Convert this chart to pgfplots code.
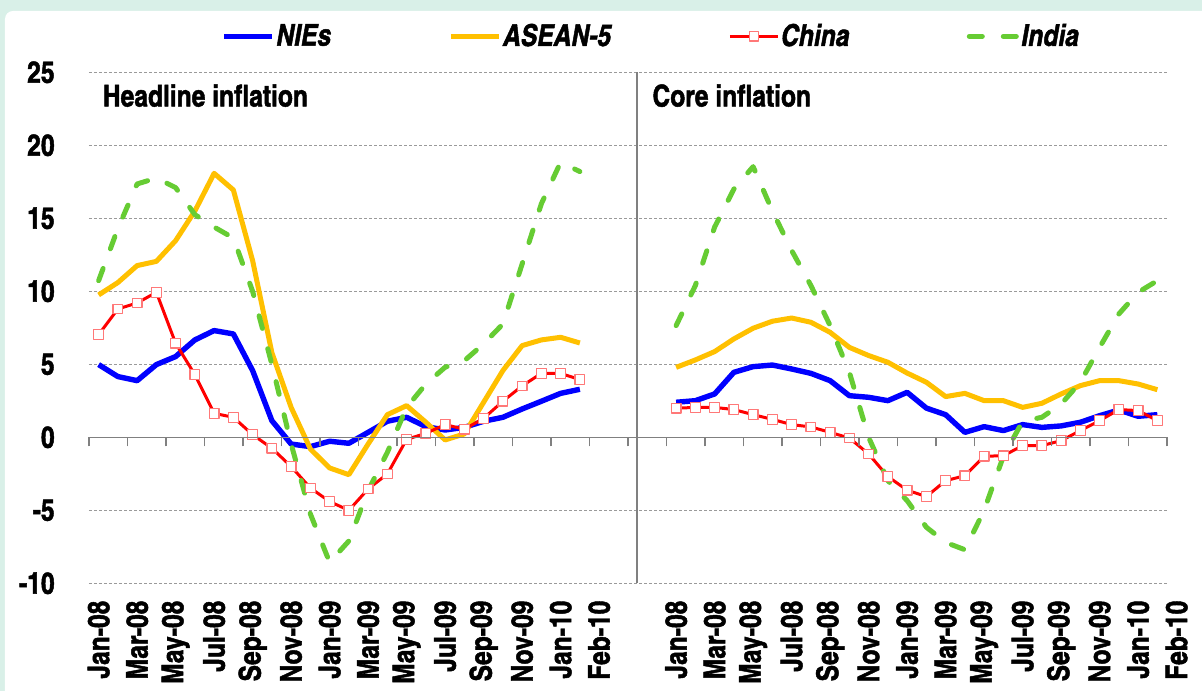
\documentclass[border=0pt]{standalone}
\usepackage{fontspec}
\setmainfont{TeX Gyre Heros Cn}[BoldFeatures={FakeBold=1.5}, BoldItalicFeatures={FakeBold=1.5}]
\usepackage{pgfplots}
\pgfplotsset{compat=1.18}

\definecolor{mintbg}{RGB}{217,240,232}
\definecolor{nieblue}{RGB}{0,0,255}
\definecolor{aseangold}{RGB}{255,192,0}
\definecolor{chinared}{RGB}{255,0,0}
\definecolor{chinamark}{RGB}{255,120,120}
\definecolor{indiagreen}{RGB}{102,204,51}
\definecolor{axisgray}{RGB}{128,128,128}

\begin{document}
\begin{tikzpicture}[font=\fontsize{15}{18}\selectfont\bfseries]
% background
\fill[mintbg] (-44.5pt,-53.85pt) rectangle (556.5pt,291.65pt);
\fill[white, rounded corners=4pt] (-42pt,-70pt) rectangle (570pt,286.15pt);

\begin{axis}[
    at={(0,0)}, anchor=south west,
    scale only axis, width=539pt, height=255.5pt,
    xmin=-0.5, xmax=55.5, ymin=-10, ymax=25,
    axis line style={draw=none},
    major tick length=0pt,
    ytick={-10,-5,0,5,10,15,20,25},
    yticklabels={-10,-5,0,5,10,15,20,25},
    yticklabel style={anchor=east, inner sep=0pt},
    yticklabel shift=17pt,
    xtick={0,2,4,6,8,10,12,14,16,18,20,22,24,26,30,32,34,36,38,40,42,44,46,48,50,52,54},
    xticklabels={Jan-08,Mar-08,May-08,Jul-08,Sep-08,Nov-08,Jan-09,Mar-09,May-09,Jul-09,Sep-09,Nov-09,Jan-10,Feb-10,
                 Jan-08,Mar-08,May-08,Jul-08,Sep-08,Nov-08,Jan-09,Mar-09,May-09,Jul-09,Sep-09,Nov-09,Jan-10},
    xticklabel style={rotate=90, anchor=east, inner sep=0pt},
    xticklabel shift=8.5pt,
    ymajorgrids,
    grid style={axisgray!80, line width=0.5pt, dash pattern=on 1.5pt off 1pt},
    extra x ticks={27.95}, extra x tick labels={},
    extra x tick style={grid=major, major grid style={solid, axisgray, line width=1pt}},
    clip=false,
    legend columns=4,
    legend style={at={(0,1)}, anchor=west, xshift=66pt, yshift=18pt,
        draw=none, fill=none, inner sep=0pt, nodes={inner sep=0.75pt},
        font=\fontsize{15}{18}\selectfont\bfseries\itshape,
        /tikz/every even column/.append style={column sep=58pt}},
    legend image code/.code={\draw[mark repeat=2,mark phase=2,#1]
        plot coordinates {(0pt,0pt) (12pt,0pt) (24pt,0pt)};},
]
% ---- headline inflation (Jan-08 .. Feb-10)
\addplot[color=nieblue, line width=2.7pt, line join=round] coordinates {
 (0,4.98) (1,4.16) (2,3.88) (3,4.98) (4,5.53) (5,6.67) (6,7.31) (7,7.08) (8,4.57) (9,1.14)
 (10,-0.46) (11,-0.64) (12,-0.27) (13,-0.41) (14,0.34) (15,1.1) (16,1.37) (17,0.73) (18,0.5)
 (19,0.68) (20,1.1) (21,1.37) (22,1.94) (23,2.47) (24,3.01) (25,3.29)};
\addlegendentry{NIEs}
\addplot[color=aseangold, line width=2.5pt, line join=round] coordinates {
 (0,9.75) (1,10.6) (2,11.76) (3,12.05) (4,13.47) (5,15.5) (6,18.08) (7,16.94) (8,12.1) (9,5.8)
 (10,2.05) (11,-0.8) (12,-2.1) (13,-2.56) (14,-0.46) (15,1.55) (16,2.17) (17,1.03) (18,-0.18)
 (19,0.23) (20,2.4) (21,4.57) (22,6.28) (23,6.67) (24,6.85) (25,6.46)};
\addlegendentry{ASEAN-5}
\addplot[color=chinared, line width=1.5pt, line join=round, mark=square*, mark size=2.4pt,
    mark options={fill=white, draw=chinamark, line width=0.6pt, solid}] coordinates {
 (0,7.03) (1,8.79) (2,9.2) (3,9.93) (4,6.44) (5,4.29) (6,1.64) (7,1.37) (8,0.18) (9,-0.75)
 (10,-2.0) (11,-3.47) (12,-4.4) (13,-5.0) (14,-3.54) (15,-2.51) (16,-0.14) (17,0.27) (18,0.87)
 (19,0.55) (20,1.3) (21,2.47) (22,3.52) (23,4.38) (24,4.38) (25,3.95)};
\addlegendentry{China}
\addplot[color=indiagreen, line width=2.5pt, line cap=round, line join=round,
    dash pattern=on 6.5pt off 10.5pt] coordinates {
 (0,10.73) (1,14.3) (2,17.35) (3,17.76) (4,17.1) (5,15.25) (6,14.4) (7,13.65) (8,10.0) (9,5.0)
 (10,-0.45) (11,-5.25) (12,-8.56) (13,-7.1) (14,-3.65) (15,-1.03) (16,2.05) (17,3.65) (18,4.8)
 (19,5.25) (20,6.4) (21,7.76) (22,11.87) (23,16.0) (24,18.84) (25,18.2)};
\addlegendentry{India}
% ---- core inflation (Jan-08 .. Feb-10)
\addplot[forget plot, color=nieblue, line width=2.7pt, line join=round] coordinates {
 (30,2.4) (31,2.51) (32,2.97) (33,4.45) (34,4.84) (35,4.95) (36,4.68) (37,4.38) (38,3.88) (39,2.85)
 (40,2.74) (41,2.51) (42,3.08) (43,2.0) (44,1.55) (45,0.34) (46,0.73) (47,0.46) (48,0.87)
 (49,0.68) (50,0.78) (51,1.03) (52,1.48) (53,1.87) (54,1.44) (55,1.55)};
\addplot[forget plot, color=aseangold, line width=2.5pt, line join=round] coordinates {
 (30,4.79) (31,5.3) (32,5.87) (33,6.74) (34,7.47) (35,7.95) (36,8.17) (37,7.88) (38,7.19) (39,6.16)
 (40,5.6) (41,5.14) (42,4.4) (43,3.77) (44,2.79) (45,3.01) (46,2.51) (47,2.51) (48,2.05)
 (49,2.33) (50,2.97) (51,3.54) (52,3.88) (53,3.88) (54,3.65) (55,3.26)};
\addplot[forget plot, color=chinared, line width=1.5pt, line join=round, mark=square*, mark size=2.4pt,
    mark options={fill=white, draw=chinamark, line width=0.6pt, solid}] coordinates {
 (30,1.99) (31,2.05) (32,2.05) (33,1.9) (34,1.55) (35,1.23) (36,0.87) (37,0.71) (38,0.34) (39,-0.05)
 (40,-1.14) (41,-2.69) (42,-3.62) (43,-4.06) (44,-2.97) (45,-2.63) (46,-1.3) (47,-1.26) (48,-0.57)
 (49,-0.57) (50,-0.23) (51,0.46) (52,1.14) (53,1.9) (54,1.83) (55,1.14)};
\addplot[forget plot, color=indiagreen, line width=2.5pt, line cap=round, line join=round,
    dash pattern=on 6.5pt off 10.5pt] coordinates {
 (30,7.65) (31,10.4) (32,14.4) (33,17.0) (34,18.54) (35,15.5) (36,12.8) (37,10.4) (38,7.65) (39,4.45)
 (40,0.0) (41,-2.97) (42,-4.34) (43,-6.16) (44,-7.2) (45,-7.7) (46,-5.0) (47,-1.3) (48,1.1)
 (49,1.37) (50,2.28) (51,3.77) (52,6.16) (53,8.45) (54,9.93) (55,10.73)};

\node[anchor=west, inner sep=0pt] at (axis cs:0.2,23.4) {Headline inflation};
\node[anchor=west, inner sep=0pt] at (axis cs:28.75,23.4) {Core inflation};
\path (axis cs:56,-10) ++(0pt,-8.5pt) node[rotate=90, anchor=east, inner sep=0pt] {Feb-10};
\end{axis}

% zero line with its tick marks
\begin{axis}[
    at={(0,0)}, anchor=south west,
    scale only axis, width=539pt, height=255.5pt,
    xmin=-0.5, xmax=55.5, ymin=-10, ymax=25,
    axis x line=middle, axis y line=none,
    x axis line style={-, axisgray, line width=0.75pt},
    xtick={-0.5,1.5,...,55.5}, xticklabels={},
    ytick=\empty,
    xtick align=outside, major tick length=4.5pt,
    tick style={axisgray, line width=0.75pt},
]
\end{axis}

\pgfresetboundingbox
\path[use as bounding box] (-44.5pt,-53.85pt) rectangle (556.5pt,291.65pt);
\end{tikzpicture}
\end{document}
